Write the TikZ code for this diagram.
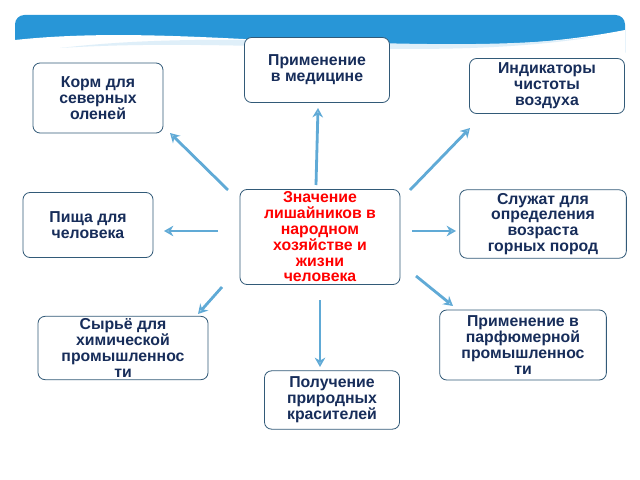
\documentclass[tikz,border=0pt]{standalone}
\usepackage{fontspec}
\setmainfont{Liberation Sans}
\usetikzlibrary{arrows.meta}
\definecolor{navy}{RGB}{23,45,90}
\definecolor{boxline}{RGB}{50,90,120}
\definecolor{arrowblue}{RGB}{96,170,214}
\definecolor{bannerblue}{RGB}{40,150,215}
\begin{document}
\begin{tikzpicture}[x={(0.03cm,0)}, y={(0,-0.03cm)},
    box/.style={draw=boxline, rounded corners=6pt, fill=white, line width=0.7pt,
      text=navy, font=\bfseries\fontsize{13.5}{13.5}\selectfont, align=center, inner sep=1pt},
    link/.style={draw=arrowblue, line width=2.4pt, -{Stealth[open, length=8pt, width=9pt]}}]
				\useasboundingbox (0,0) rectangle (640,480);
				% banner
				\fill[bannerblue, rounded corners=8pt] (15,15) rectangle (625,62);
				\fill[white] (15,62) -- (15,40) .. controls (200,20) and (420,70) .. (625,30) -- (625,62) -- cycle;
				\fill[white!85!bannerblue] (60,48) .. controls (250,26) and (430,58) .. (600,36) .. controls (430,64) and (250,36) .. (60,48);
				% boxes
				\node[box, minimum width=4.8cm, minimum height=2.85cm, text=red] (center) at (320,237) {Значение\\лишайников в\\народном\\хозяйстве и\\жизни\\человека};
				\node[box, minimum width=4.35cm, minimum height=1.95cm] (medic) at (317,70) {Применение\\в медицине};
				\node[box, minimum width=4.65cm, minimum height=1.65cm] (indic) at (547,86) {Индикаторы\\чистоты\\воздуха};
				\node[box, minimum width=3.9cm, minimum height=2.1cm] (korm) at (98,98) {Корм для\\северных\\оленей};
				\node[box, minimum width=3.9cm, minimum height=1.95cm] (food) at (88,225) {Пища для\\человека\hspace{1.2em}};
				\node[box, minimum width=5cm, minimum height=2.05cm] (age) at (543,224) {Служат для\\определения\\возраста\\горных пород};
				\node[box, minimum width=5.1cm, minimum height=1.9cm] (raw) at (123,348) {Сырьё для\\химической\\промышленнос\\ти};
				\node[box, minimum width=5cm, minimum height=2.1cm] (perf) at (523,345) {Применение в\\парфюмерной\\промышленнос\\ти};
				\node[box, minimum width=4.05cm, minimum height=1.75cm] (dye) at (332,400) {Получение\\природных\\красителей};
				% arrow ends
				\coordinate (s1) at (316,185); \coordinate (e1) at (318,108);
				\coordinate (s2) at (228,190); \coordinate (e2) at (170,133);
				\coordinate (s3) at (218,231); \coordinate (e3) at (164,231);
				\coordinate (s4) at (222,287); \coordinate (e4) at (198,314);
				\coordinate (s5) at (320,300); \coordinate (e5) at (320,367);
				\coordinate (s6) at (416,276); \coordinate (e6) at (453,306);
				\coordinate (s7) at (412,231); \coordinate (e7) at (456,231);
				\coordinate (s8) at (410,190); \coordinate (e8) at (470,128);
				\foreach \i in {1,...,8}
					\draw[link] (s\i) -- (e\i);
			\end{tikzpicture}
\end{document}
